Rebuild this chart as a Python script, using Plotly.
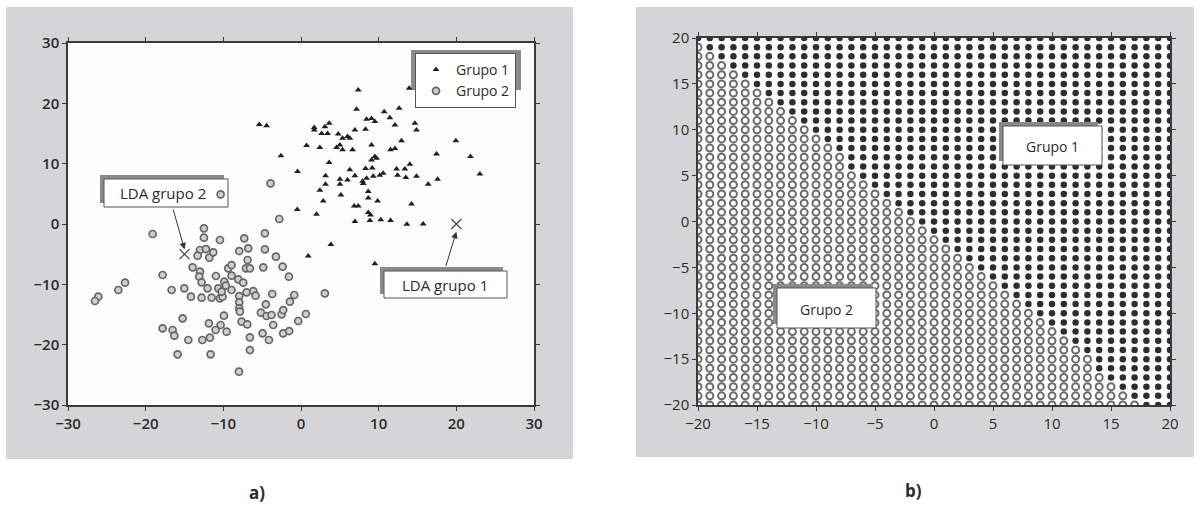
import plotly.graph_objects as go

# ---------------- Data: panel a) ----------------
tri_x = [7.37, 13.93, 7.15, 10.71, 12.64, 11.44, 8.44, 9.08, 9.51, 12.09, 14.66, 14.87,
         -5.37, -4.43, 1.70, 1.70, 3.08, 3.63, 2.65, 3.42, 4.79, 5.35, 5.99, 6.29, 6.94,
         8.31, 12.94, 19.94, 0.72, 2.43, 4.58, 5.01, 5.35, 6.64, 9.08, 11.53, 12.09, -2.58,
         17.45, 21.82, 9.08, 9.51, 9.73, 3.63, 14.02, -0.44, 6.29, 8.31, 9.17, 12.30, 13.37,
         23.03, 3.16, 5.01, 5.99, 6.94, 7.93, 8.44, 9.30, 10.15, 10.58, 12.43, 13.50, 14.87,
         17.58, 16.38, 3.16, 5.01, 8.01, 2.43, 5.14, 8.66, 8.66, 2.86, 9.86, -0.48, 6.85,
         7.37, 14.23, 2.00, 8.66, 8.95, 6.94, 8.87, 10.28, 11.53, 13.63, 15.73, 3.85, 0.93,
         9.51]
tri_y = [22.2, 22.5, 19.0, 18.6, 19.2, 17.6, 17.35, 17.5, 17.0, 16.4, 16.7, 15.6,
         16.5, 16.3, 16.0, 15.6, 16.1, 16.7, 15.0, 15.0, 14.9, 14.2, 14.5, 14.2, 15.6,
         15.7, 13.8, 13.8, 13.0, 12.7, 12.7, 13.1, 12.3, 12.3, 13.1, 12.3, 12.5, 11.3,
         11.6, 11.2, 10.6, 11.2, 10.9, 10.2, 9.9, 8.7, 9.0, 9.2, 9.3, 9.1, 9.1,
         8.3, 8.0, 7.4, 7.3, 8.0, 7.1, 7.6, 7.9, 8.1, 8.4, 8.1, 7.7, 7.9,
         7.4, 6.6, 6.6, 6.6, 6.7, 5.6, 4.8, 5.4, 4.3, 3.8, 3.8, 2.4, 3.0,
         3.0, 3.3, 1.6, 1.9, 1.5, 0.4, 0.6, 0.7, 0.6, -0.05, 0.0, -3.4, -5.3,
         -6.6]

circ_x = [-12.50, -12.50, -19.10, -10.44, -7.31, -4.65, -2.80, -13.01, -12.24, -11.81,
          -11.30, -13.31, -7.95, -6.79, -4.65, -3.23, -13.96, -13.01, -13.10, -12.80,
          -17.82, -10.95, -9.37, -8.94, -8.94, -8.08, -7.44, -6.88, -7.09, -6.58,
          -4.86, -2.37, -1.56, -9.88, -9.67, -10.66, -12.03, -15.03, -16.66, -14.17,
          -12.80, -11.51, -10.44, -10.10, -10.22, -8.94, -7.95, -7.01, -6.15, -5.85,
          -3.70, -0.87, 3.07, -22.66, -23.52, -26.10, -26.53, -7.95, -7.95, -7.87,
          -4.52, -5.16, -4.43, -3.79, -2.50, -2.29, -1.43, 0.63, -0.36, -15.24,
          -9.92, -7.65, -6.92, -3.58, -11.86, -10.35, -10.99, -9.58, -17.82, -16.53,
          -16.31, -14.51, -12.71, -11.73, -6.58, -4.95, -4.13, -2.29, -1.52, -15.89,
          -11.64, -6.58, -7.99, -3.92, -10.35]
circ_y = [-0.72, -2.27, -1.66, -2.65, -2.38, -1.55, 0.83, -4.31, -4.15, -5.58,
          -4.70, -5.25, -4.48, -4.03, -4.20, -5.42, -7.18, -7.90, -8.73, -9.67,
          -8.45, -8.62, -7.35, -6.80, -8.56, -9.17, -9.73, -5.97, -7.35, -7.35,
          -7.18, -7.07, -8.73, -9.56, -10.22, -10.66, -10.66, -10.66, -10.94, -12.05,
          -12.21, -12.21, -12.32, -12.05, -11.22, -10.94, -11.94, -11.33, -11.11, -11.88,
          -11.60, -11.77, -11.49, -9.73, -10.94, -12.05, -12.76, -12.98, -13.98, -14.53,
          -13.32, -14.70, -15.25, -15.08, -14.97, -14.26, -12.87, -14.92, -16.08, -15.64,
          -15.19, -16.19, -16.63, -16.74, -16.47, -16.74, -17.57, -17.85, -17.29, -17.57,
          -18.51, -19.23, -19.23, -18.84, -18.79, -18.12, -19.23, -18.12, -17.74, -21.60,
          -21.60, -20.89, -24.48, 6.74, 4.90]

lda_x = [20, -15]
lda_y = [0, -5]
lda_labels = ["LDA grupo 1", "LDA grupo 2"]

ticks_a = [-30, -20, -10, 0, 10, 20, 30]

# ---------------- Data: panel b) ----------------
grid_vals = list(range(-20, 21))
row_y = list(range(20, -21, -1))
# first x (from the left) classified as Grupo 1 in each row, rows from y=20 down to y=-20
first_g1_x = [-20, -19, -18, -17, -16, -15, -14, -13, -12, -11, -10, -9, -8, -7, -7,
              -6, -5, -4, -3, -2, -1, 0, 1, 2, 3, 4, 5, 6, 7, 8, 9, 10, 11, 12, 13,
              14, 14, 15, 16, 17, 18]
ticks_b = [-20, -15, -10, -5, 0, 5, 10, 15, 20]

g1x, g1y, g2x, g2y = [], [], [], []
for yv, thr in zip(row_y, first_g1_x):
    for xv in grid_vals:
        if xv >= thr:
            g1x.append(xv); g1y.append(yv)
        else:
            g2x.append(xv); g2y.append(yv)

# ---------------- Figure ----------------
W, H = 1200, 506
def px(x):
    return x / W
def py(y):
    return 1 - y / H

FONT = "Open Sans"
GRAY_BG = "#d5d5d7"
DARK = "#2b2b2b"

fig = go.Figure()

fig.add_trace(go.Scatter(x=tri_x, y=tri_y, mode="markers", name="Grupo 1",
                         marker=dict(symbol="triangle-up", size=6, color="#1f1f1f"),
                         xaxis="x", yaxis="y"))
fig.add_trace(go.Scatter(x=circ_x, y=circ_y, mode="markers", name="Grupo 2",
                         marker=dict(symbol="circle", size=7, color="#cfcfcf",
                                     line=dict(color="#666666", width=1.7)),
                         xaxis="x", yaxis="y"))
fig.add_trace(go.Scatter(x=lda_x, y=lda_y, mode="markers", showlegend=False,
                         marker=dict(symbol="x-thin-open", size=10, color="#444444",
                                     line=dict(color="#444444", width=1.2)),
                         xaxis="x", yaxis="y"))

fig.add_trace(go.Scatter(x=g2x, y=g2y, mode="markers", showlegend=False,
                         marker=dict(symbol="circle", size=7, color="#ffffff",
                                     line=dict(color="#6a6a6a", width=2)),
                         xaxis="x2", yaxis="y2"))
fig.add_trace(go.Scatter(x=g1x, y=g1y, mode="markers", showlegend=False,
                         marker=dict(symbol="circle", size=6.5, color="#2e2e2e"),
                         xaxis="x2", yaxis="y2"))

axis_common = dict(showgrid=False, zeroline=False, showline=True, mirror="ticks",
                   linecolor="#3a3a3a", linewidth=1.5, ticks="outside", ticklen=4,
                   tickcolor="#3a3a3a", tickwidth=1.2, automargin=False)

fig.update_layout(
    template="none",
    width=W, height=H, margin=dict(l=0, r=0, t=0, b=0, pad=0, autoexpand=False),
    paper_bgcolor="white", plot_bgcolor="rgba(0,0,0,0)",
    font=dict(family=FONT, color=DARK),
    xaxis=dict(domain=[px(68), px(534)], range=[-30, 30], tickvals=ticks_a,
               anchor="y", tickfont=dict(size=15, family=FONT, weight=600, color=DARK),
               **axis_common),
    yaxis=dict(domain=[py(405), py(43)], range=[-30, 30], tickvals=ticks_a,
               anchor="x", tickfont=dict(size=15, family=FONT, weight=600, color=DARK),
               **axis_common),
    xaxis2=dict(domain=[px(698), px(1170)], range=[-20, 20], tickvals=ticks_b,
                anchor="y2", tickfont=dict(size=15, family=FONT, color=DARK),
                **axis_common),
    yaxis2=dict(domain=[py(405), py(38)], range=[-20, 20], tickvals=ticks_b,
                anchor="x2", tickfont=dict(size=15, family=FONT, color=DARK),
                **axis_common),
    legend=dict(x=px(415), y=py(53), xanchor="left", yanchor="top",
                bgcolor="white", bordercolor="#555", borderwidth=1,
                font=dict(size=14, family=FONT, color=DARK),
                itemwidth=30, tracegroupgap=0),
)

shapes = []
def rect(x0, y0, x1, y1, fill, line_color=None, line_width=0, layer="below"):
    shapes.append(dict(type="rect", xref="paper", yref="paper",
                       x0=px(x0), x1=px(x1), y0=py(y1), y1=py(y0),
                       fillcolor=fill, layer=layer,
                       line=dict(color=line_color or fill, width=line_width)))

# gray panels and white plot areas
rect(6, 7, 573, 459, GRAY_BG)
rect(636, 7, 1194, 457, GRAY_BG)
rect(68, 43, 534, 405, "#fdfdfd")
rect(698, 38, 1170, 405, "#ffffff")
# legend shadow
rect(411, 50, 521, 90, "#8a8a8a")
# left panel label boxes (below points)
rect(100, 175, 224, 203, "#8a8a8a")
rect(104, 179, 228, 207, "white", "#555", 1)
rect(380, 267, 503, 294, "#8a8a8a")
rect(384, 271, 507, 298, "white", "#555", 1)
# right panel label boxes (above grid)
rect(999, 122, 1098, 161, "#8a8a8a", layer="above")
rect(1003, 126, 1102, 165, "white", "#555", 1, layer="above")
rect(773, 284, 872, 324, "#8a8a8a", layer="above")
rect(777, 288, 876, 328, "white", "#555", 1, layer="above")
fig.update_layout(shapes=shapes)

ann = []
def label(x, y, text, size=15, weight=None):
    f = dict(size=size, family=FONT, color=DARK)
    if weight:
        f["weight"] = weight
    ann.append(dict(x=px(x), y=py(y), xref="paper", yref="paper", text=text,
                    showarrow=False, font=f, xanchor="center", yanchor="middle"))

label(445, 285, lda_labels[0])
label(163, 193, lda_labels[1])
label(1052, 146, "Grupo 1", size=14)
label(826, 309, "Grupo 2", size=14)
label(257, 492, "a)", size=17, weight=700)
label(913, 490, "b)", size=17, weight=700)

# arrows to LDA points
ann.append(dict(x=lda_x[0], y=lda_y[0] - 1.3, xref="x", yref="y", ax=18.6, ay=-7.2,
                axref="x", ayref="y", text="", showarrow=True, arrowhead=2,
                arrowsize=1.3, arrowwidth=1, arrowcolor="#333"))
ann.append(dict(x=lda_x[1], y=lda_y[1] + 0.8, xref="x", yref="y", ax=-16.5, ay=2.6,
                axref="x", ayref="y", text="", showarrow=True, arrowhead=2,
                arrowsize=1.3, arrowwidth=1, arrowcolor="#333"))
fig.update_layout(annotations=ann)

fig.write_html("out.html")
